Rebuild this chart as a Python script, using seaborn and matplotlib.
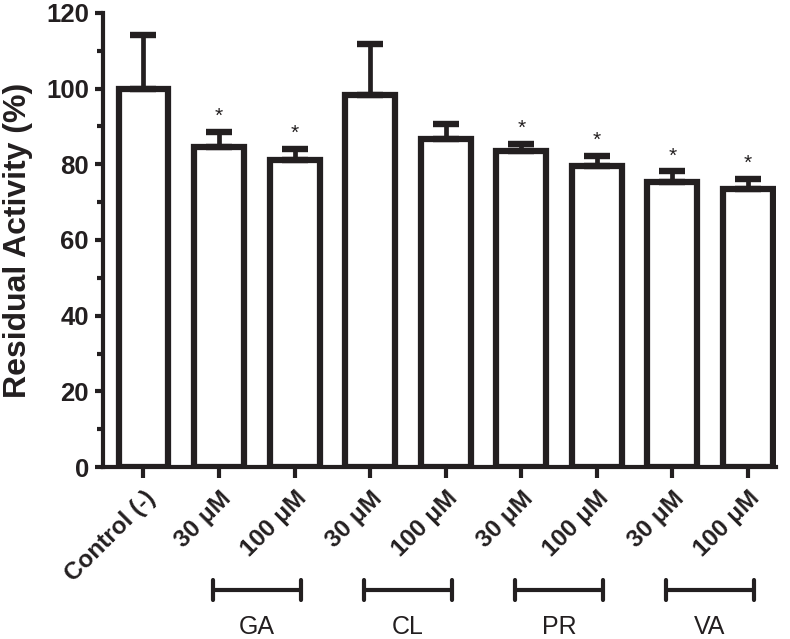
import matplotlib
matplotlib.use("Agg")
import matplotlib.pyplot as plt
import matplotlib.transforms as mtransforms
import pandas as pd
import seaborn as sns

CONDITIONS = ["Control", "GA 30", "GA 100", "CL 30", "CL 100", "PR 30", "PR 100", "VA 30", "VA 100"]
TICK_LABELS = ["Control (-)", "30 μM", "100 μM", "30 μM", "100 μM", "30 μM", "100 μM", "30 μM", "100 μM"]
MEANS = [100.0, 84.6, 81.2, 98.3, 86.6, 83.6, 79.6, 75.4, 73.5]
ERRORS = [14.0, 4.0, 2.9, 13.5, 4.1, 1.8, 2.7, 2.7, 2.6]
SIGNIFICANT = [False, True, True, False, False, True, True, True, True]
GROUP_NAMES = ["GA", "CL", "PR", "VA"]
GROUP_MEMBERS = [(1, 2), (3, 4), (5, 6), (7, 8)]

INK = "#231f20"

sns.set_theme(style="ticks")
plt.rcParams["font.family"] = ["Liberation Sans", "DejaVu Sans"]

df = pd.DataFrame({"Condition": CONDITIONS, "Activity": MEANS})

fig = plt.figure(figsize=(7.9, 6.39), dpi=100)
ax = fig.add_axes([0.130, 0.269, 0.852, 0.711])

sns.barplot(
    data=df,
    x="Condition",
    y="Activity",
    order=CONDITIONS,
    color="white",
    saturation=1,
    edgecolor=INK,
    linewidth=4.5,
    width=0.66,
    errorbar=None,
    ax=ax,
)
ax.errorbar(
    range(len(MEANS)),
    MEANS,
    yerr=[[0] * len(ERRORS), ERRORS],
    fmt="none",
    ecolor=INK,
    elinewidth=3.4,
    capsize=9.4,
    capthick=4.6,
    zorder=1,
)

for i, sig in enumerate(SIGNIFICANT):
    if sig:
        ax.text(i, MEANS[i] + ERRORS[i] + 1.5, "*", ha="center", va="bottom", fontsize=15, color=INK)

ax.set_xlim(-0.54, 8.37)
ax.set_ylim(0, 120)
ax.set_yticks(range(0, 121, 20))
ax.set_yticks(range(10, 120, 20), minor=True)
ax.set_xticks(range(len(TICK_LABELS)))
ax.set_xticklabels(TICK_LABELS, rotation=45, ha="right", va="center", rotation_mode="anchor")

sns.despine(ax=ax)
for side in ("left", "bottom"):
    ax.spines[side].set_linewidth(3)
    ax.spines[side].set_color(INK)
ax.tick_params(axis="y", which="major", length=6, width=3, color=INK, pad=4,
               labelcolor=INK, labelsize=18.5)
ax.tick_params(axis="y", which="minor", length=4, width=3, color=INK)
ax.tick_params(axis="x", which="major", length=8, width=3, color=INK, pad=12,
               labelcolor=INK, labelsize=17.5)

shift = mtransforms.ScaledTranslation(6 / 72, 0, fig.dpi_scale_trans)
for label in ax.get_xticklabels():
    label.set_fontweight("bold")
    label.set_transform(label.get_transform() + shift)
for label in ax.get_yticklabels():
    label.set_fontweight("bold")

ax.set_xlabel("")
ax.set_ylabel("Residual Activity (%)", fontsize=23, fontweight="bold", color=INK)
ax.yaxis.set_label_coords(-0.104, 0.5)

bracket_y = -32.5
for (a, b), name in zip(GROUP_MEMBERS, GROUP_NAMES):
    mid = (a + b) / 2
    left, right = mid - 0.58, mid + 0.58
    ax.plot([left, right], [bracket_y, bracket_y], color=INK, lw=3, clip_on=False, solid_capstyle="butt")
    for x in (left, right):
        ax.plot([x, x], [bracket_y - 2.6, bracket_y + 2.6], color=INK, lw=3, clip_on=False,
                solid_capstyle="round")
    ax.text(mid, -42.3, name, ha="center", va="center", fontsize=18, color=INK, clip_on=False)

fig.savefig("out.png", dpi=100)
